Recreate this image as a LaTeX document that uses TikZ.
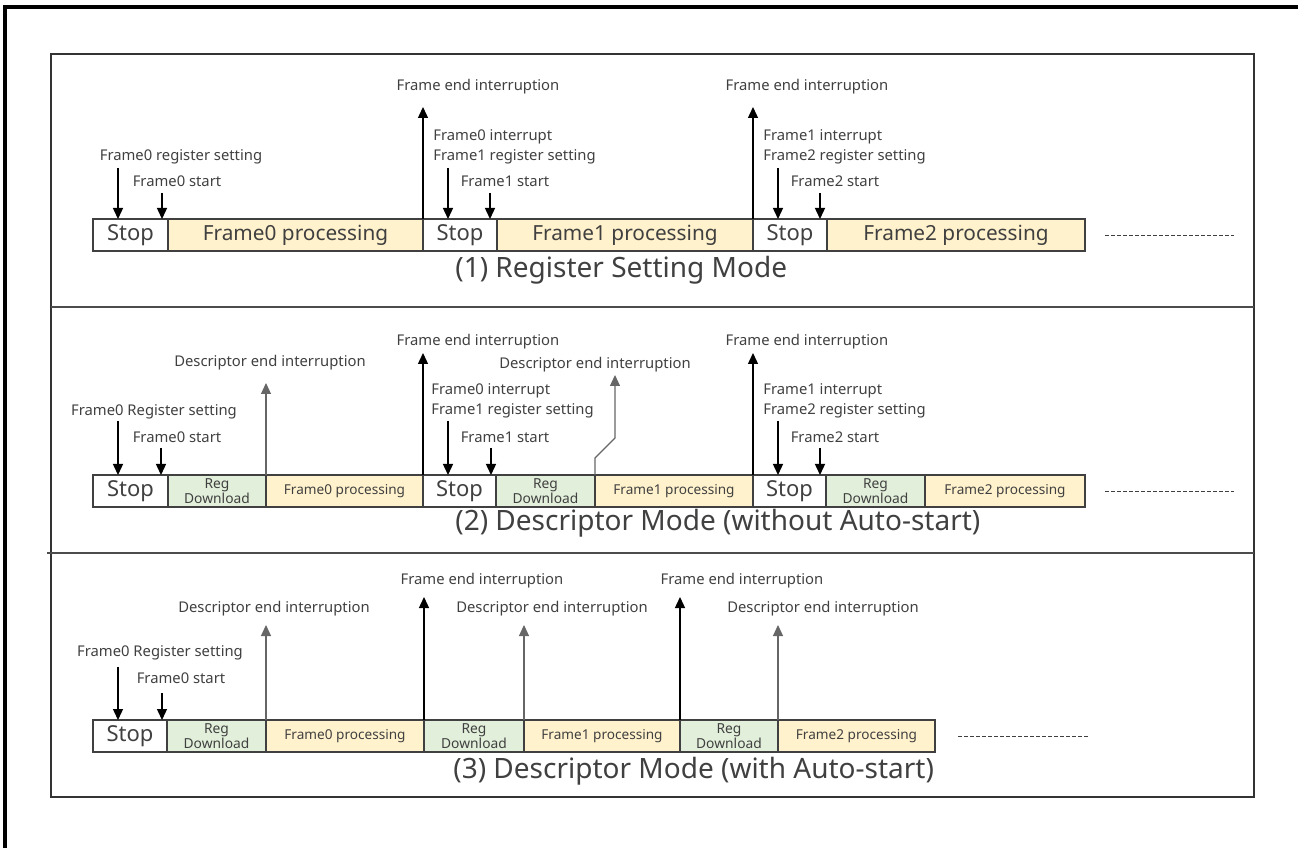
\documentclass[tikz,border=0pt]{standalone}
\usepackage{fontspec}
\setmainfont{Noto Sans}
\usepackage{tikz}
\usetikzlibrary{arrows.meta,positioning}
\definecolor{procyellow}{RGB}{255,242,204}
\definecolor{reggreen}{RGB}{226,239,218}
\definecolor{inkgray}{RGB}{64,64,64}

\begin{document}
\begin{tikzpicture}[x=0.5pt,y=0.5pt,
  box/.style={draw=inkgray,line width=0.6pt,minimum height=16pt,inner sep=0pt,
              outer sep=0pt,text=inkgray},
  stopbox/.style={box,fill=white,font=\fontsize{11}{13}\selectfont},
  procbox/.style={box,fill=procyellow,font=\fontsize{10.4}{12}\selectfont},
  procsmall/.style={box,fill=procyellow,font=\fontsize{6.8}{7.5}\selectfont},
  regbox/.style={box,fill=reggreen,align=center,font=\fontsize{6.9}{7.2}\selectfont},
  lbl/.style={text=inkgray,inner sep=0pt,font=\fontsize{7.4}{9.8}\selectfont},
  modetitle/.style={anchor=west,inner sep=0pt,text=inkgray,font=\fontsize{14}{16}\selectfont},
  arr/.style={-{Triangle[width=5pt,length=5.5pt]},line width=0.7pt},
  darr/.style={arr,draw=black!60,line width=0.55pt},
  etc/.style={draw=inkgray,line width=0.5pt,dash pattern=on 2pt off 1pt}
]
\useasboundingbox (0,0) rectangle (1298,848);
% outer and inner frames
\draw[line width=1.6pt] (5,0) -- (5,841) -- (1298,841);
\draw[draw=black!80,line width=0.8pt] (51,51) rectangle (1254,794);
\draw[draw=black!70,line width=0.7pt] (51,541) -- (1254,541);
\draw[draw=black!70,line width=0.7pt] (47,295) -- (1254,295);

% (1) register setting mode
\node[stopbox,minimum width=37.5pt,anchor=west] (stop1a) at (93,613) {Stop};
\node[procbox,minimum width=127.5pt,right=0pt of stop1a] (proc1a) {Frame0 processing};
\node[stopbox,minimum width=37pt,right=0pt of proc1a] (stop1b) {Stop};
\node[procbox,minimum width=128pt,right=0pt of stop1b] (proc1b) {Frame1 processing};
\node[stopbox,minimum width=37pt,right=0pt of proc1b] (stop1c) {Stop};
\node[procbox,minimum width=129pt,right=0pt of stop1c] (proc1c) {Frame2 processing};
\node[modetitle] (mode1) at (455,578) {(1) Register Setting Mode};

\node[lbl] (set1a) at (181,691) {Frame0 register setting};
\node[lbl] (start1a) at (177,667) {Frame0 start};
\node[lbl] (end1a) at (478,761) {Frame end interruption};
\node[lbl,anchor=west,align=left] (set1b) at (433,701) {Frame0 interrupt\\Frame1 register setting};
\node[lbl] (start1b) at (505,667) {Frame1 start};
\node[lbl] (end1b) at (807,761) {Frame end interruption};
\node[lbl,anchor=west,align=left] (set1c) at (763,701) {Frame1 interrupt\\Frame2 register setting};
\node[lbl] (start1c) at (835,667) {Frame2 start};

\foreach \x/\y [count=\i] in {118/680,162/655,448/680,490/655,778/680,820/655}{
  \coordinate (down1\i) at (\x,\y);
  \draw[arr] (down1\i) -- (down1\i |- stop1a.north);
}
\coordinate (up1a) at (423,741);
\coordinate (up1b) at (753,741);
\draw[arr] (up1a |- proc1a.north) -- (up1a);
\draw[arr] (up1b |- proc1b.north) -- (up1b);
\coordinate (etc1a) at (1105,612);
\coordinate (etc1b) at (1234,612);
\draw[etc] (etc1a) -- (etc1b);

% (2) descriptor mode without auto-start
\node[stopbox,minimum width=37.5pt,anchor=west] (stop2a) at (93,357) {Stop};
\node[regbox,minimum width=49pt,right=0pt of stop2a] (reg2a) {Reg\\Download};
\node[procsmall,minimum width=78.5pt,right=0pt of reg2a] (proc2a) {Frame0 processing};
\node[stopbox,minimum width=36.5pt,right=0pt of proc2a] (stop2b) {Stop};
\node[regbox,minimum width=49.5pt,right=0pt of stop2b] (reg2b) {Reg\\Download};
\node[procsmall,minimum width=79pt,right=0pt of reg2b] (proc2b) {Frame1 processing};
\node[stopbox,minimum width=36.5pt,right=0pt of proc2b] (stop2c) {Stop};
\node[regbox,minimum width=49.5pt,right=0pt of stop2c] (reg2c) {Reg\\Download};
\node[procsmall,minimum width=80pt,right=0pt of reg2c] (proc2c) {Frame2 processing};
\node[modetitle] (mode2) at (455,325) {(2) Descriptor Mode (without Auto-start)};

\node[lbl] (set2a) at (154,436) {Frame0 Register setting};
\node[lbl] (start2a) at (177,411) {Frame0 start};
\node[lbl] (desc2a) at (270,485) {Descriptor end interruption};
\node[lbl] (end2a) at (478,506) {Frame end interruption};
\node[lbl,anchor=west,align=left] (set2b) at (431,447) {Frame0 interrupt\\Frame1 register setting};
\node[lbl] (start2b) at (505,411) {Frame1 start};
\node[lbl] (desc2b) at (595,483) {Descriptor end interruption};
\node[lbl] (end2b) at (807,506) {Frame end interruption};
\node[lbl,anchor=west,align=left] (set2c) at (763,447) {Frame1 interrupt\\Frame2 register setting};
\node[lbl] (start2c) at (835,411) {Frame2 start};

\foreach \x/\y [count=\i] in {118/427,161/400,448/427,491/400,778/427,820/400}{
  \coordinate (down2\i) at (\x,\y);
  \draw[arr] (down2\i) -- (down2\i |- stop2a.north);
}
\coordinate (up2a) at (423,495);
\coordinate (up2b) at (753,495);
\draw[arr] (up2a |- proc2a.north) -- (up2a);
\draw[arr] (up2b |- proc2b.north) -- (up2b);
\coordinate (dup2a) at (266,465);
\coordinate (dup2b) at (615,473);
\draw[darr] (dup2a |- reg2a.north) -- (dup2a);
\draw[darr] (proc2b.north west) -- ++(0,17) -- ++(20,20) -- (dup2b);
\coordinate (etc2a) at (1105,357);
\coordinate (etc2b) at (1234,357);
\draw[etc] (etc2a) -- (etc2b);

% (3) descriptor mode with auto-start
\node[stopbox,minimum width=37pt,anchor=west] (stop3a) at (93,112) {Stop};
\node[regbox,minimum width=49.5pt,right=0pt of stop3a] (reg3a) {Reg\\Download};
\node[procsmall,minimum width=79pt,right=0pt of reg3a] (proc3a) {Frame0 processing};
\node[regbox,minimum width=50pt,right=0pt of proc3a] (reg3b) {Reg\\Download};
\node[procsmall,minimum width=78pt,right=0pt of reg3b] (proc3b) {Frame1 processing};
\node[regbox,minimum width=49pt,right=0pt of proc3b] (reg3c) {Reg\\Download};
\node[procsmall,minimum width=78.5pt,right=0pt of reg3c] (proc3c) {Frame2 processing};
\node[modetitle] (mode3) at (453,77) {(3) Descriptor Mode (with Auto-start)};

\node[lbl] (set3a) at (160,195) {Frame0 Register setting};
\node[lbl] (start3a) at (181,170) {Frame0 start};
\node[lbl] (desc3a) at (274,239) {Descriptor end interruption};
\node[lbl] (end3a) at (482,267) {Frame end interruption};
\node[lbl] (desc3b) at (552,239) {Descriptor end interruption};
\node[lbl] (end3b) at (742,267) {Frame end interruption};
\node[lbl] (desc3c) at (823,239) {Descriptor end interruption};

\coordinate (down31) at (118,181);
\coordinate (down32) at (162,155);
\draw[arr] (down31) -- (down31 |- stop3a.north);
\draw[arr] (down32) -- (down32 |- stop3a.north);
\coordinate (up3a) at (424,251);
\coordinate (up3b) at (680,251);
\draw[arr] (up3a |- proc3a.north) -- (up3a);
\draw[arr] (up3b |- proc3b.north) -- (up3b);
\coordinate (dup3a) at (266,223);
\coordinate (dup3b) at (524,223);
\coordinate (dup3c) at (778,223);
\draw[darr] (dup3a |- reg3a.north) -- (dup3a);
\draw[darr] (dup3b |- reg3b.north) -- (dup3b);
\draw[darr] (dup3c |- reg3c.north) -- (dup3c);
\coordinate (etc3a) at (958,112);
\coordinate (etc3b) at (1088,112);
\draw[etc] (etc3a) -- (etc3b);
\end{tikzpicture}
\end{document}
